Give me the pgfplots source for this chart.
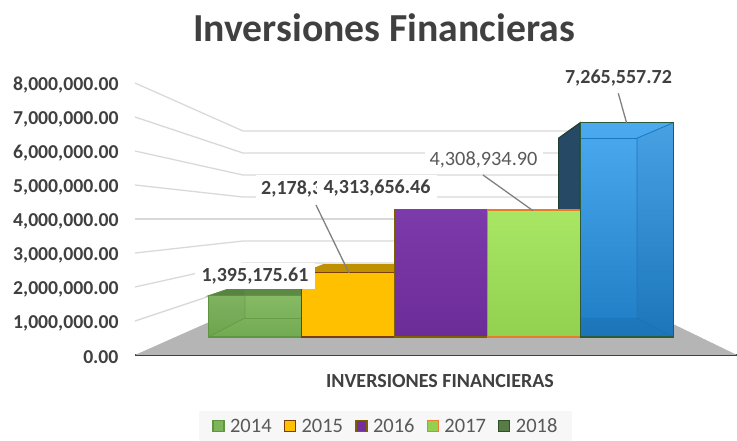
\documentclass[border=0pt]{standalone}
\usepackage{fontspec}
\setmainfont{Carlito}
\usepackage{pgfplots}
\pgfplotsset{compat=1.18}
\definecolor{txt}{HTML}{404040}
\definecolor{txtl}{HTML}{595959}
\definecolor{gridc}{HTML}{D9D9D9}
\definecolor{floorc}{HTML}{B5B5B5}
\newcommand\face[2]{\addplot[forget plot,#1] table[row sep=\\,x=x,y expr={(\thisrow{d}+(34-0.25*\thisrow{d})*\thisrow{v}/1000000)/34*1000000}]{x d v\\#2}--cycle;}
\newcommand\gline[1]{\addplot[forget plot,draw=gridc,line width=1.3pt] table[row sep=\\,x=x,y expr={(\thisrow{d}+(34-0.25*\thisrow{d})*\thisrow{v}/1000000)/34*1000000}]{x d v\\135 0 #1\\243 48 #1\\638 48 #1\\};}
\newcommand\fs[1]{\fontsize{#1}{#1}\selectfont}
\begin{document}
\begin{tikzpicture}
\useasboundingbox (0,0) rectangle (737pt,441pt);
\begin{axis}[
  at={(135pt,86pt)},anchor=south west,
  scale only axis,width=602pt,height=272pt,
  xmin=135,xmax=737,ymin=0,ymax=8000000,
  clip=false,
  axis y line=left,axis x line=bottom,
  y axis line style={draw=none},
  x axis line style={draw=txt,line width=2pt,-},
  xtick=\empty,
  ytick={0,1000000,2000000,3000000,4000000,5000000,6000000,7000000,8000000},
  major tick length=0pt,
  tick label style={font=\fs{19.7}\bfseries,text=txt},
  yticklabel style={xshift=-13pt,yshift=-2.5pt},
  scaled y ticks=false,
  /pgf/number format/.cd,fixed,fixed zerofill,precision=2,1000 sep={,},assume math mode=true,
  /pgfplots/.cd,
  title={Inversiones Financieras},
  title style={font=\fs{39.7}\bfseries,text=txt,at={(axis description cs:0.4136,1.183)},anchor=center},
  xlabel={INVERSIONES FINANCIERAS},
  xlabel style={font=\fs{20}\bfseries,text=txt,at={(axis description cs:0.5066,-0.095)},anchor=center},
  legend columns=5,
  legend style={at={(axis description cs:0.1063,-0.2059)},anchor=north west,draw=none,fill=black!3,
    font=\fs{20.5},text=txtl,inner xsep=13pt,inner ysep=5.5pt,
    /tikz/every odd column/.append style={column sep=3.5pt},
    /tikz/every even column/.append style={column sep=10pt}},
  legend image code/.code={\draw[#1,line width=1.4pt] (0pt,-5pt) rectangle (11pt,6pt);},
]
% floor
\face{fill=floorc,draw=none}{135 0 0\\737 0 0\\638 48 0\\243 48 0\\}
% gridlines
\gline{1000000}\gline{2000000}\gline{3000000}\gline{4000000}
\gline{5000000}\gline{6000000}\gline{7000000}\gline{8000000}
% 2018 hidden faces
\face{fill=black!15,draw=none}{558.6 37 7265557.72\\637 37 7265557.72\\637 37 0\\558.6 37 0\\}
\face{fill={rgb,255:red,38;green,74;blue,102},draw={rgb,255:red,30;green,62;blue,50},line width=1.2pt}{580.3 18 7265557.72\\558.6 37 7265557.72\\558.6 37 0\\580.3 18 0\\}
% 2014
\face{fill={rgb,255:red,92;green,138;blue,68},draw={rgb,255:red,92;green,138;blue,68},line width=1pt}{208.5 18 1395175.61\\301.5 18 1395175.61\\323.4 37 1395175.61\\245 37 1395175.61\\}
\face{top color={rgb,255:red,134;green,186;blue,100},bottom color={rgb,255:red,114;green,170;blue,82},draw={rgb,255:red,96;green,150;blue,64},line width=1.2pt}{208.5 18 1395175.61\\301.5 18 1395175.61\\301.5 18 0\\208.5 18 0\\}
\face{fill=black,fill opacity=0.04,draw={rgb,255:red,96;green,150;blue,64},draw opacity=0.7,line width=0.8pt}{208.5 18 1395175.61\\245 37 1395175.61\\245 37 0\\208.5 18 0\\}
\addplot[forget plot,draw={rgb,255:red,96;green,150;blue,64},draw opacity=0.7,line width=0.8pt] table[row sep=\\,x=x,y expr={(\thisrow{d}+(34-0.25*\thisrow{d})*\thisrow{v}/1000000)/34*1000000}]{x d v\\245 37 0\\301.5 37 0\\};
% 2015
\face{fill={rgb,255:red,191;green,144;blue,0},draw=none}{301.5 18 2178300\\394.5 18 2178300\\401.8 37 2178300\\323.4 37 2178300\\}
\face{fill={rgb,255:red,255;green,192;blue,0},draw={rgb,255:red,122;green,62;blue,12},line width=1.3pt}{301.5 18 2178300\\394.5 18 2178300\\394.5 18 0\\301.5 18 0\\}
% 2016
\face{top color={rgb,255:red,124;green,58;blue,170},bottom color={rgb,255:red,108;green,44;blue,152},draw={rgb,255:red,127;green,96;blue,0},line width=1.3pt}{394.5 18 4313656.46\\487.3 18 4313656.46\\487.3 18 0\\394.5 18 0\\}
% 2017
\face{top color={rgb,255:red,168;green,230;blue,100},bottom color={rgb,255:red,146;green,208;blue,80},draw={rgb,255:red,230;green,125;blue,40},line width=1.3pt}{487.3 18 4308934.90\\580.3 18 4308934.90\\580.3 18 0\\487.3 18 0\\}
% 2018
\face{top color={rgb,255:red,76;green,170;blue,240},bottom color={rgb,255:red,30;green,124;blue,196},draw={rgb,255:red,45;green,90;blue,55},line width=1.3pt}{580.3 18 7265557.72\\673.5 18 7265557.72\\673.5 18 0\\580.3 18 0\\}
\face{fill=black,fill opacity=0.05,draw={rgb,255:red,26;green,120;blue,190},line width=0.8pt}{673.5 18 7265557.72\\637 37 7265557.72\\637 37 0\\673.5 18 0\\}
\face{fill=black,fill opacity=0.06,draw=none}{580.3 18 0\\673.5 18 0\\637 37 0\\580.3 37 0\\}
\addplot[forget plot,draw={rgb,255:red,26;green,120;blue,190},line width=0.8pt] table[row sep=\\,x=x,y expr={(\thisrow{d}+(34-0.25*\thisrow{d})*\thisrow{v}/1000000)/34*1000000}]{x d v\\580.3 37 7265557.72\\637 37 7265557.72\\};
\addplot[forget plot,draw={rgb,255:red,26;green,120;blue,190},line width=0.8pt] table[row sep=\\,x=x,y expr={(\thisrow{d}+(34-0.25*\thisrow{d})*\thisrow{v}/1000000)/34*1000000}]{x d v\\580.3 37 0\\637 37 0\\};
\face{draw={rgb,255:red,45;green,90;blue,55},line width=1.3pt}{580.3 18 7265557.72\\673.5 18 7265557.72\\673.5 18 0\\580.3 18 0\\}
% legend
\addlegendimage{fill={rgb,255:red,126;green,181;blue,92},draw={rgb,255:red,96;green,150;blue,64}}\addlegendentry{2014}
\addlegendimage{fill={rgb,255:red,255;green,192;blue,0},draw={rgb,255:red,122;green,62;blue,12}}\addlegendentry{2015}
\addlegendimage{fill={rgb,255:red,112;green,48;blue,160},draw={rgb,255:red,127;green,96;blue,0}}\addlegendentry{2016}
\addlegendimage{fill={rgb,255:red,146;green,208;blue,80},draw={rgb,255:red,237;green,125;blue,49}}\addlegendentry{2017}
\addlegendimage{fill={rgb,255:red,88;green,124;blue,72},draw={rgb,255:red,50;green,80;blue,40}}\addlegendentry{2018}
\end{axis}
\begin{scope}[x=1pt,y=-1pt,yshift=441pt]
\draw[draw=black!50,line width=1.3pt] (618.3,93.3)--(626.7,123.3);
\draw[draw=black!50,line width=1.3pt] (483,175)--(533,210.7);
\draw[draw=black!50,line width=1.3pt] (316,205)--(349,273);
\tikzset{lab/.style={fill=white,inner sep=0pt,minimum height=26pt,text=txt,font=\fs{20}\bfseries}}
\node[lab,anchor=west,inner xsep=5pt] at (256,188.5) {2,178,3};
\node[lab,minimum width=120pt] at (255,276) {1,395,175.61};
\node[lab,minimum width=120pt] at (377,188.5) {4,313,656.46};
\node[lab,font=\fs{20.3},text=txtl,minimum height=24pt,minimum width=118pt] at (483.5,160) {4,308,934.90};
\node[lab,minimum width=118pt] at (618.5,78) {7,265,557.72};
\end{scope}
\end{tikzpicture}
\end{document}
